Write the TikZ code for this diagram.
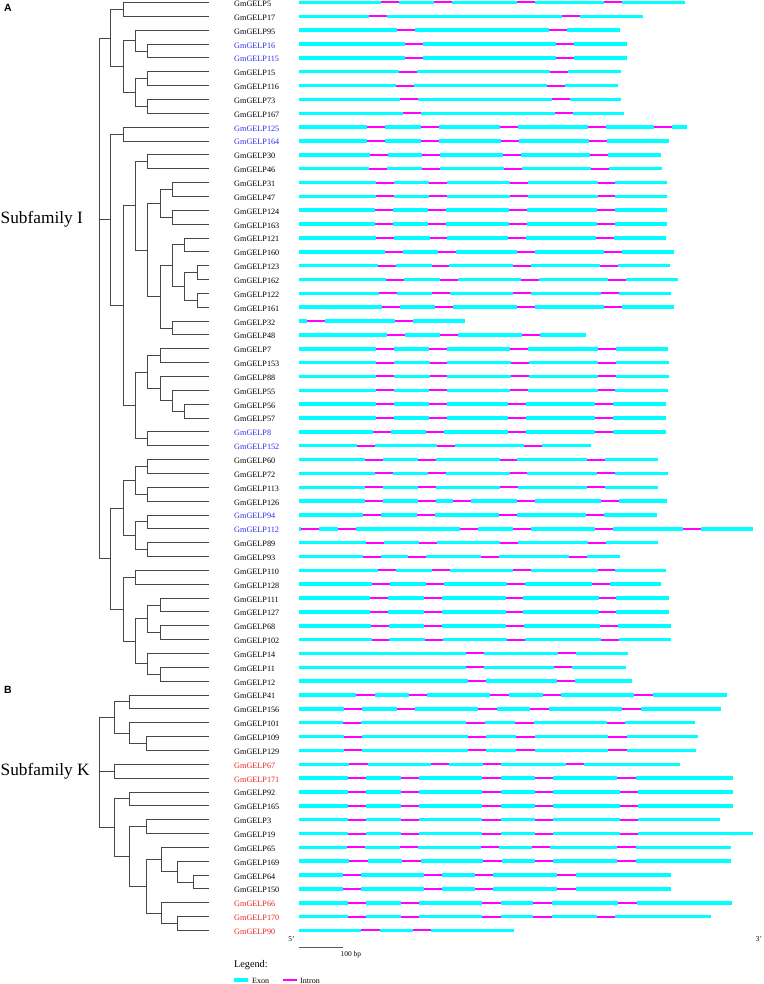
\documentclass[tikz,border=0pt]{standalone}
\usepackage{fontspec}
\setmainfont{Liberation Serif}
\newfontfamily\panelfont{Liberation Sans}
\usepackage{xcolor}
\usepackage{tikz}
\usetikzlibrary{calc,positioning}

\definecolor{exoncyan}{RGB}{0,255,255}
\definecolor{intronpink}{RGB}{255,0,255}
\definecolor{gelpblue}{RGB}{45,45,235}
\definecolor{gelpred}{RGB}{235,35,35}

% elbow clade: name, x of the split, two children
\newcommand{\clade}[4]{%
  \coordinate (tmp) at ($(#3)!.5!(#4)$);
  \coordinate (#1) at (#2,0 |- tmp);
  \draw[branch] (#1) |- (#3);
  \draw[branch] (#1) |- (#4);}

\newcommand{\gene}[2]{%
  \pgfmathsetmacro{\gy}{\RowTop+\RowGap*#1}%
  \foreach \a/\b [count=\k] in {#2}{%
    \ifnum\k>1 \fill[intronpink] ({\GeneX+\lastend*\GeneUnit},\gy-1) rectangle ({\GeneX+\a*\GeneUnit},\gy+1);\fi
    \fill[exoncyan] ({\GeneX+\a*\GeneUnit},\gy-1.75) rectangle ({\GeneX+\b*\GeneUnit},\gy+1.75);
    \xdef\lastend{\b}}}

\begin{document}
\begin{tikzpicture}[x=1pt,y=-1pt,
  branch/.style={draw=black!72,line width=0.9pt},
  leaf/.style={anchor=west,inner sep=0pt,font=\fontsize{8.2}{9}\selectfont},
  small/.style={inner sep=0pt,font=\fontsize{7.4}{8}\selectfont}]
\useasboundingbox (0,0) rectangle (763,984);
\pgfmathsetmacro{\RowTop}{2.5}
\pgfmathsetmacro{\RowGap}{13.85}
\pgfmathsetmacro{\GeneX}{280}
\pgfmathsetmacro{\GeneUnit}{1/3}

\node[font=\panelfont\bfseries\fontsize{10.5}{12}\selectfont] (panelA) at (8,8) {A};
\node[font=\panelfont\bfseries\fontsize{10.5}{12}\selectfont] (panelB) at (8,690) {B};
\node[anchor=west,inner sep=0pt,font=\fontsize{17.3}{20}\selectfont] (subI) at (0.5,219) {Subfamily I};
\node[anchor=west,inner sep=0pt,font=\fontsize{17.3}{20}\selectfont] (subK) at (0.5,771.7) {Subfamily K};

\foreach \nm/\col [count=\i from 0] in {GmGELP5/black,GmGELP17/black,GmGELP95/black,GmGELP16/gelpblue,GmGELP115/gelpblue,
  GmGELP15/black,GmGELP116/black,GmGELP73/black,GmGELP167/black,GmGELP125/gelpblue,GmGELP164/gelpblue,
  GmGELP30/black,GmGELP46/black,GmGELP31/black,GmGELP47/black,GmGELP124/black,GmGELP163/black,
  GmGELP121/black,GmGELP160/black,GmGELP123/black,GmGELP162/black,GmGELP122/black,GmGELP161/black,
  GmGELP32/black,GmGELP48/black,GmGELP7/black,GmGELP153/black,GmGELP88/black,GmGELP55/black,
  GmGELP56/black,GmGELP57/black,GmGELP8/gelpblue,GmGELP152/gelpblue,GmGELP60/black,GmGELP72/black,
  GmGELP113/black,GmGELP126/black,GmGELP94/gelpblue,GmGELP112/gelpblue,GmGELP89/black,GmGELP93/black,
  GmGELP110/black,GmGELP128/black,GmGELP111/black,GmGELP127/black,GmGELP68/black,GmGELP102/black,
  GmGELP14/black,GmGELP11/black,GmGELP12/black,
  GmGELP41/black,GmGELP156/black,GmGELP101/black,GmGELP109/black,GmGELP129/black,GmGELP67/gelpred,
  GmGELP171/gelpred,GmGELP92/black,GmGELP165/black,GmGELP3/black,GmGELP19/black,GmGELP65/black,
  GmGELP169/black,GmGELP64/black,GmGELP150/black,GmGELP66/gelpred,GmGELP170/gelpred,GmGELP90/gelpred}{
  \node[leaf,text=\col] (g\i) at (234,{\RowTop+\RowGap*\i+1.3}) {\nm};
  \coordinate (t\i) at (209,{\RowTop+\RowGap*\i});
}

% subfamily I
\clade{a1}{123.7}{t0}{t1}
\clade{a2}{147.7}{t3}{t4}
\clade{a3}{135.7}{t2}{a2}
\clade{a4}{147.7}{t5}{t6}
\clade{a5}{147.7}{t7}{t8}
\clade{a6}{135.7}{a4}{a5}
\clade{a7}{123.7}{a3}{a6}
\clade{a8}{110.7}{a1}{a7}
\clade{b1}{123.7}{t9}{t10}
\clade{b2}{147.7}{t11}{t12}
\clade{b3}{172.3}{t13}{t14}
\clade{b4}{172.3}{t15}{t16}
\clade{b5}{160.3}{b3}{b4}
\clade{b6}{184.3}{t17}{t18}
\clade{b7}{197}{t19}{t20}
\clade{b8}{197}{t21}{t22}
\clade{b9}{184.3}{b7}{b8}
\clade{b10}{172.3}{b6}{b9}
\clade{b11}{172.3}{t23}{t24}
\clade{b12}{160.3}{b10}{b11}
\clade{b13}{147.7}{b5}{b12}
\clade{b14}{135.7}{b2}{b13}
\clade{b15}{160.3}{t25}{t26}
\clade{b16}{184.3}{t29}{t30}
\clade{b17}{172.3}{t28}{b16}
\clade{b18}{160.3}{t27}{b17}
\clade{b19}{147.7}{b15}{b18}
\clade{b20}{147.7}{t31}{t32}
\clade{b21}{135.7}{b19}{b20}
\clade{b22}{123.7}{b14}{b21}
\clade{b23}{110.7}{b1}{b22}
\clade{c1}{147.7}{t33}{t34}
\clade{c2}{147.7}{t35}{t36}
\clade{c3}{135.7}{c1}{c2}
\clade{c4}{147.7}{t37}{t38}
\clade{c5}{147.7}{t39}{t40}
\clade{c6}{135.7}{c4}{c5}
\clade{c7}{123.7}{c3}{c6}
\clade{c8}{135.7}{t41}{t42}
\clade{c9}{160.3}{t43}{t44}
\clade{c10}{160.3}{t45}{t46}
\clade{c11}{147.7}{c9}{c10}
\clade{c12}{160.3}{t48}{t49}
\clade{c13}{147.7}{t47}{c12}
\clade{c14}{135.7}{c11}{c13}
\clade{c15}{123.7}{c8}{c14}
\clade{c16}{110.7}{c7}{c15}
\clade{r1}{99.3}{a8}{c16}
\draw[branch] (r1) |- (b23);

% subfamily K
\clade{k1}{129.7}{t50}{t51}
\clade{k2}{146.7}{t53}{t54}
\clade{k3}{129.7}{t52}{k2}
\clade{k4}{114.7}{k1}{k3}
\clade{k5}{114.7}{t55}{t56}
\clade{k6}{129.7}{t57}{t58}
\clade{k7}{146.7}{t59}{t60}
\clade{k8}{193.3}{t63}{t64}
\clade{k9}{177.3}{t62}{k8}
\clade{k10}{161.7}{t61}{k9}
\clade{k11}{177.3}{t66}{t67}
\clade{k12}{161.7}{t65}{k11}
\clade{k13}{146.7}{k10}{k12}
\clade{k14}{129.7}{k7}{k13}
\clade{k15}{114.7}{k6}{k14}
\clade{r2}{99.3}{k4}{k15}
\draw[branch] (r2) |- (k5);

\gene{0}{56/304,358/461,515/711,764/972,1026/1216}
\gene{1}{56/268,321/846,899/1089}
\gene{2}{56/352,406/806,860/1020}
\gene{3}{56/374,428/828,882/1042}
\gene{4}{56/374,428/828,882/1042}
\gene{5}{56/357,411/810,864/1022}
\gene{6}{56/347,401/802,855/1013}
\gene{7}{56/359,413/816,869/1022}
\gene{8}{56/370,424/826,879/1032}
\gene{9}{56/262,316/422,476/661,715/923,977/1122,1176/1222}
\gene{10}{56/262,316/422,476/663,718/927,980/1167}
\gene{11}{56/270,324/426,480/669,723/931,985/1143}
\gene{12}{56/268,321/427,481/671,725/933,987/1145}
\gene{13}{56/287,341/446,500/690,744/953,1006/1162}
\gene{14}{56/287,341/446,500/690,744/953,1006/1162}
\gene{15}{56/285,339/444,498/688,742/950,1004/1160}
\gene{16}{56/285,339/444,498/688,742/950,1004/1160}
\gene{17}{56/288,342/449,502/685,739/947,1001/1157}
\gene{18}{56/314,368/473,527/711,764/972,1026/1182}
\gene{19}{56/294,348/455,508/698,752/960,1014/1170}
\gene{20}{56/318,372/479,533/723,777/985,1039/1194}
\gene{21}{56/297,351/456,510/700,754/963,1017/1172}
\gene{22}{56/306,360/466,520/711,764/972,1026/1182}
\gene{23}{56/80,134/346,400/556}
\gene{24}{56/322,376/481,535/725,779/918}
\gene{25}{56/287,341/446,500/691,745/953,1007/1164}
\gene{26}{56/289,343/449,502/693,747/955,1009/1167}
\gene{27}{56/289,343/449,502/693,747/955,1009/1167}
\gene{28}{56/287,341/446,500/690,744/953,1006/1164}
\gene{29}{56/287,341/446,500/684,737/945,999/1157}
\gene{30}{56/287,341/446,500/684,737/945,999/1157}
\gene{31}{56/280,334/439,493/684,737/945,999/1157}
\gene{32}{56/230,284/471,525/733,787/933}
\gene{33}{56/255,309/414,468/659,712/921,975/1135}
\gene{34}{56/285,339/444,498/689,742/950,1004/1164}
\gene{35}{56/255,309/414,468/659,713/921,975/1135}
\gene{36}{56/255,309/414,468/519,572/710,764/963,1017/1160}
\gene{37}{56/249,303/410,464/657,711/919,973/1131}
\gene{38}{56/64,118/173,227/539,593/699,753/946,1000/1209,1263/1420}
\gene{39}{56/257,311/417,471/659,713/923,977/1135}
\gene{40}{56/249,303/385,439/604,657/867,921/1020}
\gene{41}{56/294,348/455,509/698,752/953,1006/1159}
\gene{42}{56/276,330/437,491/681,735/935,989/1143}
\gene{43}{56/270,324/431,485/677,730/956,1009/1167}
\gene{44}{56/270,324/431,485/677,730/956,1009/1167}
\gene{45}{56/273,326/431,485/679,732/960,1013/1172}
\gene{46}{56/275,328/434,488/681,735/963,1017/1174}
\gene{47}{56/558,612/833,887/1045}
\gene{48}{56/558,612/821,875/1038}
\gene{49}{56/564,618/831,885/1057}
\gene{50}{56/228,284/387,442/630,686/788,843/1062,1118/1340}
\gene{51}{56/192,247/351,406/594,650/751,807/1027,1083/1324}
\gene{52}{56/188,243/559,615/706,761/980,1036/1245}
\gene{53}{56/192,247/564,619/709,764/985,1041/1253}
\gene{54}{56/192,247/564,619/709,764/985,1041/1249}
\gene{55}{56/208,263/452,508/609,664/857,912/1201}
\gene{56}{56/204,259/363,418/606,662/764,819/1012,1067/1360}
\gene{57}{56/204,259/363,418/606,662/764,819/1019,1074/1360}
\gene{58}{56/204,259/363,418/606,662/764,819/1019,1074/1360}
\gene{59}{56/204,259/363,418/606,662/764,819/1019,1074/1320}
\gene{60}{56/204,259/363,418/606,662/764,819/1019,1074/1420}
\gene{61}{56/200,256/359,414/602,658/755,810/1012,1067/1352}
\gene{62}{56/208,263/367,422/610,665/764,819/1012,1067/1352}
\gene{63}{56/188,243/431,486/585,640/832,887/1173}
\gene{64}{56/188,243/431,486/585,640/832,887/1173}
\gene{65}{56/204,259/363,418/606,662/760,815/1015,1071/1356}
\gene{66}{56/204,259/363,418/606,662/760,815/951,1006/1292}
\gene{67}{56/244,299/399,454/702}

\node[small] (five) at (291.5,939) {5'};
\node[small] (three) at (759,939) {3'};
\coordinate (bar0) at (298.7,947.7);
\coordinate (bar1) at (343.3,947.7);
\draw[black!65,line width=0.9pt] (bar0) -- (bar1);
\node[small,anchor=west] (barlab) at (340.5,955) {100 bp};

\node[anchor=west,inner sep=0pt,font=\fontsize{10.2}{12}\selectfont] (legend) at (234,965.5) {Legend:};
\fill[exoncyan] (234,978.25) rectangle (248,981.75);
\node[small,anchor=west,font=\fontsize{8}{9}\selectfont] (exonlab) at (252,980.5) {Exon};
\fill[intronpink] (283,979) rectangle (297,981);
\node[small,anchor=west,font=\fontsize{8}{9}\selectfont] (intronlab) at (300,980.5) {Intron};
\end{tikzpicture}
\end{document}
